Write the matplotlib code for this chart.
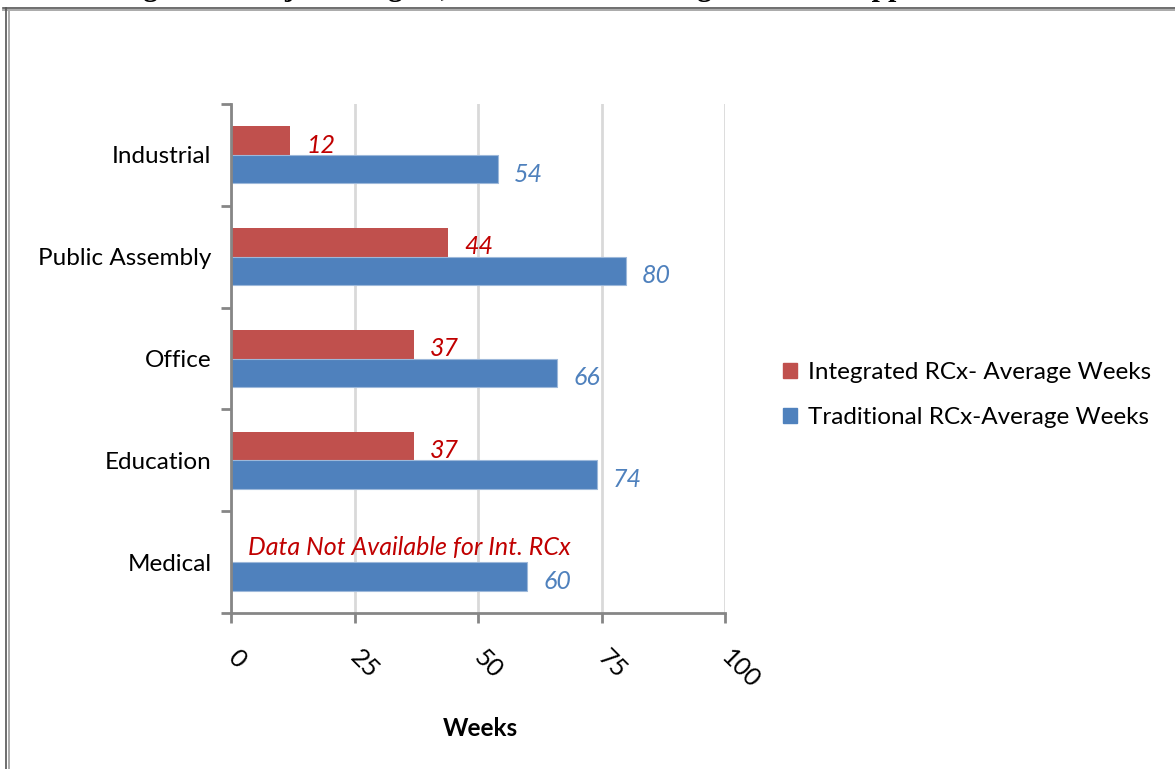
import numpy as np
import matplotlib
matplotlib.use('Agg')
import matplotlib.pyplot as plt
import matplotlib.transforms as mtransforms
from matplotlib.lines import Line2D
from matplotlib.patches import Patch

# dados do grafico
categorias = ['Industrial', 'Public Assembly', 'Office', 'Education', 'Medical']
integrado = [12, 44, 37, 37, np.nan]
tradicional = [54, 80, 66, 74, 60]
ticks_x = [0, 25, 50, 75, 100]
nome_int = 'Integrated RCx- Average Weeks'
nome_trad = 'Traditional RCx-Average Weeks'
sem_dados = 'Data Not Available for Int. RCx'
titulo = 'Figure 4: Project Lengths, Traditional vs. Integrated RCx Approaches'

cor_int = '#C0504D'
cor_trad = '#4F81BD'
cor_txt_int = '#C00000'

plt.rcParams['font.family'] = ['Lato', 'DejaVu Sans']
fs = 17.5

W, H = 1175, 769
fig = plt.figure(figsize=(W / 100, H / 100), dpi=100)
ax = fig.add_axes([231 / W, 1 - 613 / H, (725 - 231) / W, (613 - 104) / H])

pos = np.arange(len(categorias))
h = 0.28
ax.barh(pos - h / 2, integrado, height=h, color=cor_int, edgecolor='none', zorder=3)
ax.barh(pos + h / 2, tradicional, height=h, color=cor_trad, edgecolor='#9db8da',
        linewidth=0.8, zorder=3)

# rotulos de valor
for i, v in enumerate(integrado):
    if np.isnan(v):
        ax.text(3.5, i - h / 2, sem_dados, color=cor_txt_int, style='italic',
                fontsize=fs + 0.5, ha='left', va='center')
    else:
        ax.annotate(str(v), (v, i - h / 2), xytext=(11.5, -3.2), textcoords='offset points',
                    color=cor_txt_int, style='italic', fontsize=fs + 0.5, ha='left', va='center')
for i, v in enumerate(tradicional):
    ax.annotate(str(v), (v, i + h / 2), xytext=(11.5, -3.5), textcoords='offset points',
                color=cor_trad, style='italic', fontsize=fs + 0.5, ha='left', va='center')

ax.set_xlim(0, 100)
ax.set_ylim(len(categorias) - 0.5, -0.5)

# eixo y: marcas nas fronteiras, nomes no centro
ax.set_yticks(np.arange(-0.5, len(categorias)), minor=False)
ax.set_yticklabels([])
ax.set_yticks(pos, minor=True)
ax.set_yticklabels(categorias, minor=True, fontsize=fs)
ax.tick_params(axis='y', which='major', direction='out', length=7.2, width=2, color='#868686')
ax.tick_params(axis='y', which='minor', length=0, pad=14)

ax.set_xticks(ticks_x)
ax.set_xticklabels([str(t) for t in ticks_x], fontsize=fs + 0.5, rotation=-45, ha='left', va='top')
ax.tick_params(axis='x', direction='out', length=7.2, width=2, color='#868686', pad=16)
desloc = mtransforms.ScaledTranslation(-8 / 100, 0, fig.dpi_scale_trans)
for lab in ax.get_xticklabels():
    lab.set_transform(lab.get_transform() + desloc)

ax.grid(axis='x', color='#D9D9D9', linewidth=2, zorder=0)
ax.set_axisbelow(True)
for s in ['top', 'right']:
    ax.spines[s].set_visible(False)
for s in ['left', 'bottom']:
    ax.spines[s].set_color('#868686')
    ax.spines[s].set_linewidth(2)
    ax.spines[s].set_zorder(4)

fig.text(480 / W, 1 - 728 / H, 'Weeks', fontsize=17.5, fontweight='bold', ha='center', va='center')

# legenda
handles = [Patch(color=cor_int, label=nome_int), Patch(color=cor_trad, label=nome_trad)]
fig.legend(handles=handles, loc='center left', bbox_to_anchor=(783 / W, 1 - 395 / H),
           frameon=False, fontsize=fs, handlelength=0.58, handleheight=0.58,
           handletextpad=0.45, labelspacing=1.0, borderpad=0, borderaxespad=0)

# moldura e titulo cortado
fig.add_artist(Line2D([3 / W, 1], [1 - 8 / H, 1 - 8 / H], color='#555555', lw=1.2))
fig.add_artist(Line2D([3 / W, 1], [1 - 9.5 / H, 1 - 9.5 / H], color='#aaaaaa', lw=1.4))
fig.add_artist(Line2D([6 / W, 6 / W], [0, 1 - 8 / H], color='#555555', lw=1.2))
fig.add_artist(Line2D([8.5 / W, 8.5 / W], [0, 1 - 9.5 / H], color='#aaaaaa', lw=1.4))
fig.text(117 / W, 1 + 4 / H, titulo, fontsize=21.3, fontweight='bold',
         family='Liberation Serif', ha='left', va='baseline')

fig.savefig('out.png', dpi=100)
